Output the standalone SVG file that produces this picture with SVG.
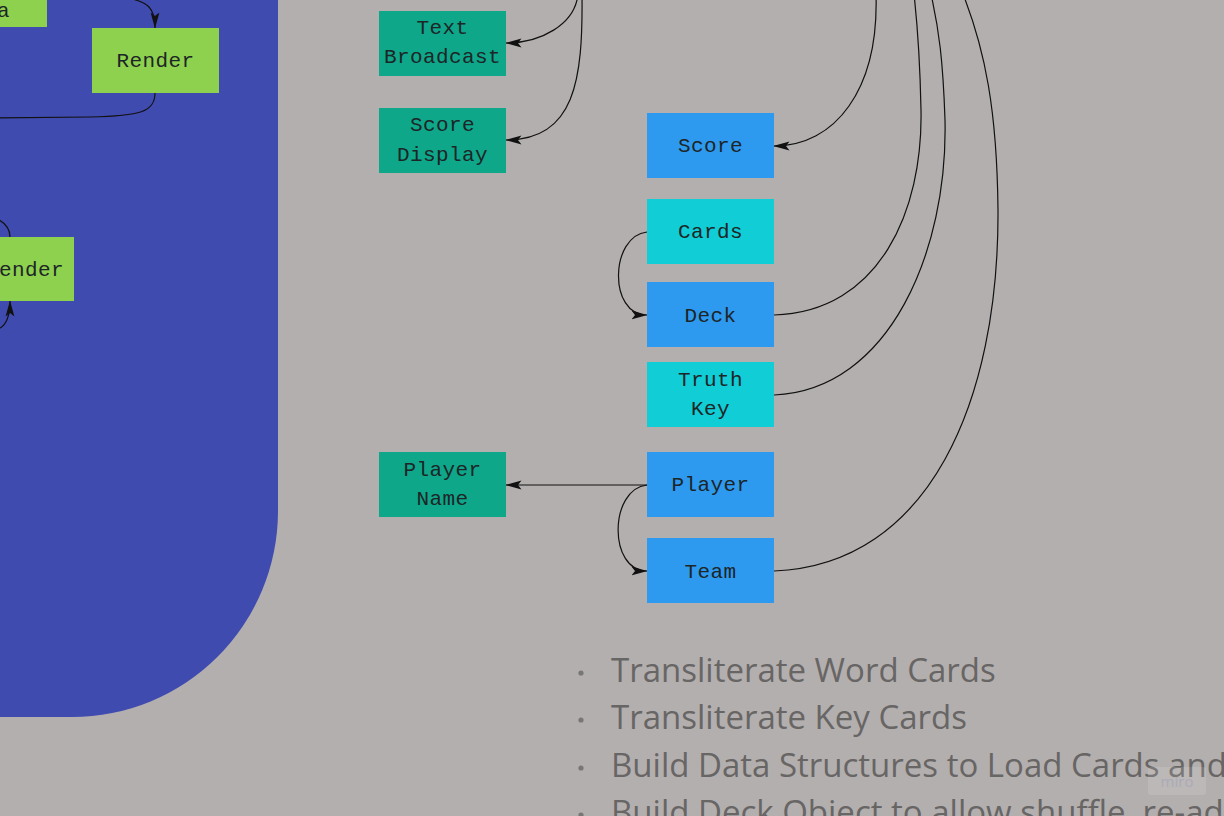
<svg xmlns="http://www.w3.org/2000/svg" width="1224" height="816" viewBox="0 0 1224 816">
<style>
.lbl{font-family:"Liberation Mono","DejaVu Sans Mono",monospace;font-size:21px;letter-spacing:0.4px;fill:#1d2526;text-anchor:middle}
.g{fill:#8ed14f}
.t{fill:#0ea78a}
.b{fill:#2d9af0}
.c{fill:#11cdd5}
.ln{fill:none;stroke:#111;stroke-width:1.2}
.bul{font-family:"Open Sans","Noto Sans",sans-serif;font-size:33px;fill:#686565}
</style>
<defs>
<marker id="ah" viewBox="0 0 16 10" refX="15.5" refY="5" markerWidth="16" markerHeight="10" markerUnits="userSpaceOnUse" orient="auto">
<path d="M0,0.6 L16,5 L0,9.4 L3.5,5 z" fill="#111"/>
</marker>
</defs>
<rect width="1224" height="816" fill="#b3afae"/>
<path d="M-10,-10 H278 V512 A206,206 0 0 1 72,717 H-10 Z" fill="#404bb0"/>

<g id="connectors">
<path class="ln" d="M128,-2 C148,2 155,8 155,28" marker-end="url(#ah)"/>
<path class="ln" d="M155,93 C155,112 140,116 90,117 L-5,118"/>
<path class="ln" d="M-5,218 C5,222 10,228 10,237"/>
<path class="ln" d="M-5,330 C5,328 10,318 10,301" marker-end="url(#ah)"/>
<path class="ln" d="M578,-6 C575,25 540,43 506,43" marker-end="url(#ah)"/>
<path class="ln" d="M582,-6 C583,80 575,140 506,140" marker-end="url(#ah)"/>
<path class="ln" d="M876,-6 C879,90 835,146 774,146" marker-end="url(#ah)"/>
<path class="ln" d="M774,315 C880,312 923,210 921,110 C920,60 918,30 914,-6"/>
<path class="ln" d="M774,395 C890,390 948,250 945,120 C943,60 939,30 931,-6"/>
<path class="ln" d="M774,571 C930,565 999,400 998,210 C997,110 985,50 963,-6"/>
<path class="ln" d="M647,232 C610,236 608,315 647,315" marker-end="url(#ah)"/>
<path class="ln" d="M647,485 L506,485" marker-end="url(#ah)"/>
<path class="ln" d="M647,485 C609,489 608,571 647,571" marker-end="url(#ah)"/>
</g>

<g id="node-data"><rect class="g" x="-10" y="-10" width="57" height="37"/><text class="lbl" x="-3" y="17" style="text-anchor:start">a</text></g>
<g id="node-render1"><rect class="g" x="92" y="28" width="127" height="65"/><text class="lbl" x="155.5" y="67">Render</text></g>
<g id="node-render2"><rect class="g" x="-10" y="237" width="84" height="64"/><text class="lbl" x="-1" y="276" style="text-anchor:start">ender</text></g>

<g id="node-text-broadcast"><rect class="t" x="379" y="11" width="127" height="65"/><text class="lbl" x="442.5" y="34">Text</text><text class="lbl" x="442.5" y="63">Broadcast</text></g>
<g id="node-score-display"><rect class="t" x="379" y="108" width="127" height="65"/><text class="lbl" x="442.5" y="131">Score</text><text class="lbl" x="442.5" y="161">Display</text></g>
<g id="node-player-name"><rect class="t" x="379" y="452" width="127" height="65"/><text class="lbl" x="442.5" y="476">Player</text><text class="lbl" x="442.5" y="505">Name</text></g>

<g id="node-score"><rect class="b" x="647" y="113" width="127" height="65"/><text class="lbl" x="710.5" y="152">Score</text></g>
<g id="node-cards"><rect class="c" x="647" y="199" width="127" height="65"/><text class="lbl" x="710.5" y="238">Cards</text></g>
<g id="node-deck"><rect class="b" x="647" y="282" width="127" height="65"/><text class="lbl" x="710.5" y="322">Deck</text></g>
<g id="node-truth-key"><rect class="c" x="647" y="362" width="127" height="65"/><text class="lbl" x="710.5" y="386">Truth</text><text class="lbl" x="710.5" y="415">Key</text></g>
<g id="node-player"><rect class="b" x="647" y="452" width="127" height="65"/><text class="lbl" x="710.5" y="491">Player</text></g>
<g id="node-team"><rect class="b" x="647" y="538" width="127" height="65"/><text class="lbl" x="710.5" y="578">Team</text></g>

<g id="task-list">
<circle cx="581" cy="673" r="2.6" fill="#777"/>
<circle cx="581" cy="720" r="2.6" fill="#777"/>
<circle cx="581" cy="768" r="2.6" fill="#777"/>
<circle cx="581" cy="815" r="2.6" fill="#777"/>
<text class="bul" x="611" y="682">Transliterate Word Cards</text>
<text class="bul" x="611" y="729">Transliterate Key Cards</text>
<text class="bul" x="611" y="777">Build Data Structures to Load Cards and</text>
<text class="bul" x="611" y="824">Build Deck Object to allow shuffle, re-ad</text>
</g>
<g id="watermark">
<rect x="1148" y="767" width="58" height="28" rx="3" fill="#ffffff" fill-opacity="0.12"/>
<text x="1177" y="787" font-family="'Open Sans','Noto Sans',sans-serif" font-size="15" fill="#aaaab8" text-anchor="middle">miro</text>
</g>
</svg>
